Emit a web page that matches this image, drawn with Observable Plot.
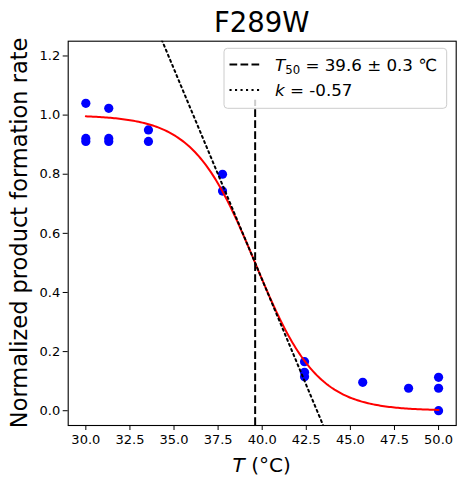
<!DOCTYPE html>
<html>
<head>
<meta charset="utf-8">
<script src="https://cdn.jsdelivr.net/npm/d3@7"></script>
<script src="https://cdn.jsdelivr.net/npm/@observablehq/plot@0.6"></script>
<style>
  html, body { margin: 0; padding: 0; background: #fff; }
  #chart svg { display: block; font-family: "DejaVu Sans", sans-serif; }
</style>
</head>
<body>
<div id="chart"></div>
<script>
// Measured temperatures (°C) and normalized product formation rates
const temps = [30, 30, 30, 31.3, 31.3, 31.3, 33.55, 33.55, 37.75, 37.75, 42.4, 42.4, 42.4, 45.7, 48.3, 50, 50, 50];
const rates = [1.040, 0.921, 0.911, 1.023, 0.921, 0.911, 0.950, 0.911, 0.800, 0.743, 0.166, 0.130, 0.115, 0.096, 0.076, 0.113, 0.076, 0.0];

// Fit parameters shown in the legend
const T50 = 39.6;
const T50err = 0.3;
const k = -0.57;

// Axis ticks
const xTicks = [30, 32.5, 35, 37.5, 40, 42.5, 45, 47.5, 50];
const yTicks = [0, 0.2, 0.4, 0.6, 0.8, 1.0, 1.2];

const points = temps.map((t, i) => ({t, r: rates[i]}));

// Logistic fit curve from the fitted parameters
const fitX = d3.range(30, 50.0001, 0.1);
const fit = fitX.map(t => ({t, r: 1 / (1 + Math.exp(-k * (t - T50)))}));
// Tangent at T50 with slope k/4
const tanX = [29, 51];
const tangent = tanX.map(t => ({t, r: 0.5 + (k / 4) * (t - T50)}));

const W = 464, H = 487;
const mL = 67.7, mR = 8.3, mT = 40.7, mB = 62;

const plot = Plot.plot({
  width: W,
  height: H,
  marginLeft: mL,
  marginRight: mR,
  marginTop: mT,
  marginBottom: mB,
  style: {fontFamily: "DejaVu Sans, sans-serif", fontSize: "13px", color: "#000", background: "#fff"},
  x: {domain: [29, 51], ticks: xTicks, tickFormat: d3.format(".1f"), tickSize: 5, tickPadding: 4, label: null},
  y: {domain: [-0.05, 1.25], ticks: yTicks, tickFormat: d3.format(".1f"), tickSize: 5, tickPadding: 3, label: null},
  marks: [
    Plot.dot(points, {x: "t", y: "r", r: 4.6, fill: "#0000ff", stroke: "none"}),
    Plot.line(fit, {x: "t", y: "r", stroke: "#ff0000", strokeWidth: 2}),
    Plot.ruleX([T50], {y1: -0.05, y2: 1.05, stroke: "#000", strokeWidth: 2, strokeDasharray: "7.7,3.3"}),
    Plot.line(tangent, {x: "t", y: "r", stroke: "#000", strokeWidth: 2, strokeDasharray: "2.1,3.4", clip: true}),
    Plot.frame({stroke: "#000", strokeWidth: 1.1})
  ]
});

document.getElementById("chart").appendChild(plot);

const svg = d3.select(plot);

// Title
svg.append("text")
  .attr("x", mL + (W - mL - mR) / 2)
  .attr("y", 31.7)
  .attr("text-anchor", "middle")
  .attr("font-size", "27.5px")
  .attr("fill", "#000")
  .text("F289W");

// X axis label
const xl = svg.append("text")
  .attr("x", mL + (W - mL - mR) / 2)
  .attr("y", 471.5)
  .attr("text-anchor", "middle")
  .attr("font-size", "20px")
  .attr("fill", "#000");
xl.append("tspan").attr("font-style", "italic").text("T");
xl.append("tspan").text(" (°C)");

// Y axis label
svg.append("text")
  .attr("transform", `translate(26.5,${mT + (H - mT - mB) / 2}) rotate(-90)`)
  .attr("text-anchor", "middle")
  .attr("font-size", "22.5px")
  .attr("fill", "#000")
  .text("Normalized product formation rate");

// Legend
const lg = svg.append("g").attr("text-anchor", "start");
lg.append("rect")
  .attr("x", 224).attr("y", 48.3)
  .attr("width", 222.7).attr("height", 60)
  .attr("rx", 3.5)
  .attr("fill", "#fff").attr("fill-opacity", 0.8)
  .attr("stroke", "#cccccc").attr("stroke-width", 1);
lg.append("line")
  .attr("x1", 229.5).attr("x2", 262).attr("y1", 64.5).attr("y2", 64.5)
  .attr("stroke", "#000").attr("stroke-width", 2).attr("stroke-dasharray", "7.7,3.3");
lg.append("line")
  .attr("x1", 229.5).attr("x2", 262).attr("y1", 90).attr("y2", 90)
  .attr("stroke", "#000").attr("stroke-width", 2).attr("stroke-dasharray", "2.1,3.4");
const t1 = lg.append("text")
  .attr("x", 275).attr("y", 70.5)
  .attr("text-anchor", "start")
  .attr("font-size", "16.7px").attr("fill", "#000");
t1.append("tspan").attr("font-style", "italic").text("T");
t1.append("tspan").attr("font-size", "11.7px").attr("dy", "3").text("50");
t1.append("tspan").attr("dy", "-3").text(` = ${T50} ± ${T50err} ℃`);
const t2 = lg.append("text")
  .attr("x", 275).attr("y", 96)
  .attr("text-anchor", "start")
  .attr("font-size", "16.7px").attr("fill", "#000");
t2.append("tspan").attr("font-style", "italic").text("k");
t2.append("tspan").text(` = ${k}`);
</script>
</body>
</html>
